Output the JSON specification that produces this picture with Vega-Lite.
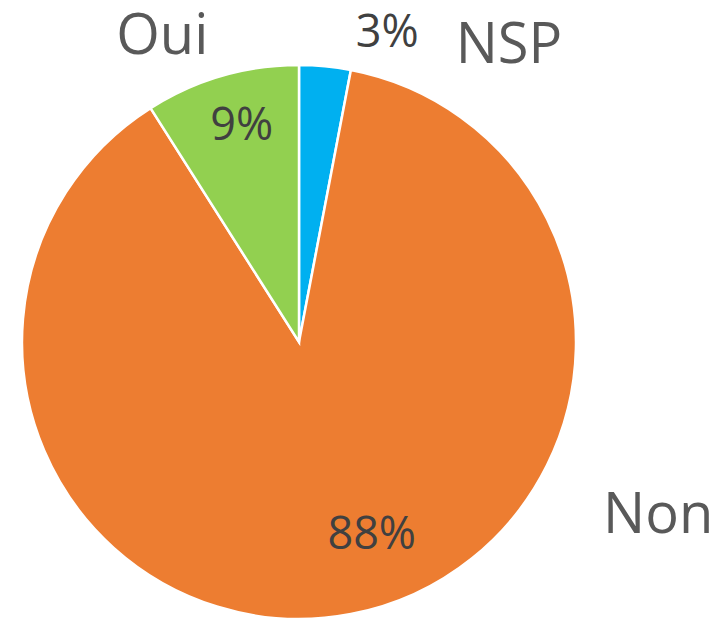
{
  "$schema": "https://vega.github.io/schema/vega-lite/v6.json",
  "width": 598,
  "height": 558,
  "autosize": {"type": "none"},
  "padding": {"left": 0, "top": 63, "right": 117, "bottom": 0},
  "background": "white",
  "config": {"view": {"stroke": null}},
  "data": {
    "values": [
      {"category": "NSP", "share": 0.03},
      {"category": "Non", "share": 0.88},
      {"category": "Oui", "share": 0.09}
    ]
  },
  "encoding": {
    "theta": {"field": "share", "type": "quantitative", "stack": true},
    "order": {"field": "category", "type": "ordinal", "sort": "ascending"}
  },
  "layer": [
    {
      "mark": {"type": "arc", "outerRadius": 277, "stroke": "white", "strokeWidth": 2.5},
      "encoding": {
        "color": {
          "field": "category",
          "type": "nominal",
          "scale": {"domain": ["NSP", "Non", "Oui"], "range": ["#00B0F0", "#ED7D31", "#92D050"]},
          "legend": null
        }
      }
    },
    {
      "mark": {"type": "text", "radius": 310, "dx": 59, "fontSize": 45, "font": "Open Sans", "fill": "#404040", "align": "center", "baseline": "middle"},
      "encoding": {"text": {"condition": {"test": "datum.category === 'NSP'", "field": "share", "type": "quantitative", "format": ".0%"}, "value": ""}}
    },
    {
      "mark": {"type": "text", "radius": 297, "dx": 182, "fontSize": 56, "font": "Open Sans", "fill": "#595959", "align": "center", "baseline": "middle"},
      "encoding": {"text": {"condition": {"test": "datum.category === 'NSP'", "field": "category", "type": "nominal"}, "value": ""}}
    },
    {
      "mark": {"type": "text", "radius": 318, "dx": -48, "fontSize": 56, "font": "Open Sans", "fill": "#595959", "align": "center", "baseline": "middle"},
      "encoding": {"text": {"condition": {"test": "datum.category === 'Oui'", "field": "category", "type": "nominal"}, "value": ""}}
    },
    {
      "mark": {"type": "text", "radius": 223, "dx": 5, "dy": -2, "fontSize": 45, "font": "Open Sans", "fill": "#404040", "align": "center", "baseline": "middle"},
      "encoding": {"text": {"condition": {"test": "datum.category === 'Oui'", "field": "share", "type": "quantitative", "format": ".0%"}, "value": ""}}
    },
    {
      "mark": {"type": "text", "radius": 196, "dx": 36, "fontSize": 45, "font": "Open Sans", "fill": "#404040", "align": "center", "baseline": "middle"},
      "encoding": {"text": {"condition": {"test": "datum.category === 'Non'", "field": "share", "type": "quantitative", "format": ".0%"}, "value": ""}}
    },
    {
      "mark": {"type": "text", "radius": 177, "dx": 326, "fontSize": 56, "font": "Open Sans", "fill": "#595959", "align": "center", "baseline": "middle"},
      "encoding": {"text": {"condition": {"test": "datum.category === 'Non'", "field": "category", "type": "nominal"}, "value": ""}}
    }
  ]
}
